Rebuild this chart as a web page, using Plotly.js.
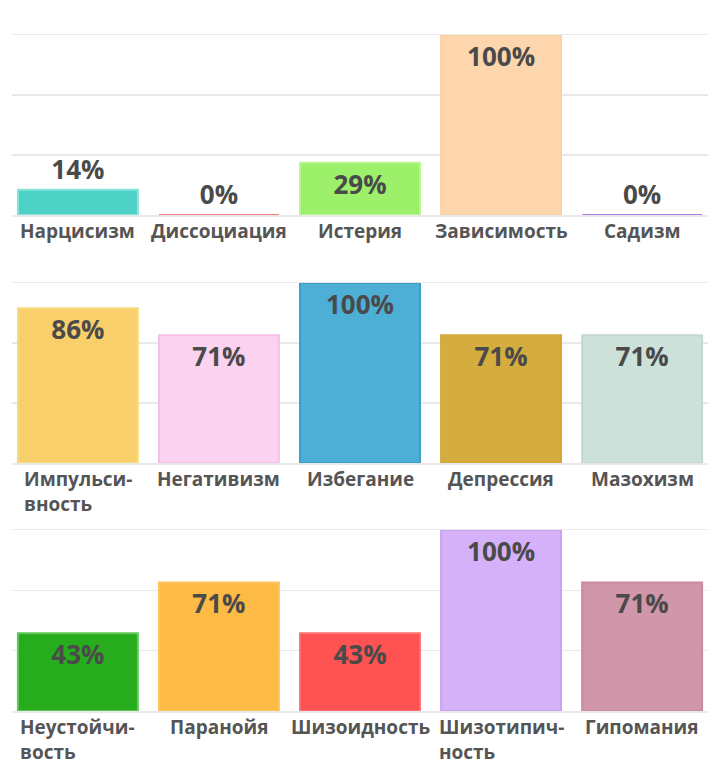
<!DOCTYPE html>
<html>
<head>
<meta charset="utf-8">
<script src="https://cdn.plot.ly/plotly-3.0.1.min.js"></script>
<style>html,body{margin:0;padding:0;background:#fff;}#chart{width:720px;height:770px;}</style>
</head>
<body>
<div id="chart"></div>
<script>
// ---- data ----
var row1Labels = ['Нарцисизм', 'Диссоциация', 'Истерия', 'Зависимость', 'Садизм'];
var row1Values = [14, 0, 29, 100, 0];
var row2Labels = ['Импульси-<br>вность', 'Негативизм', 'Избегание', 'Депрессия', 'Мазохизм'];
var row2Values = [86, 71, 100, 71, 71];
var row3Labels = ['Неустойчи-<br>вость', 'Паранойя', 'Шизоидность', 'Шизотипич-<br>ность', 'Гипомания'];
var row3Values = [43, 71, 43, 100, 71];

// ---- styles ----
var row1Colors = ['#4fd2c6', '#f07a7a', '#9cf06a', '#fdd6ad', '#b888ee'];
var row1Lines  = ['#86e3da', '#f07c7c', '#b6f592', '#fbd2a8', '#b07ce8'];
var row2Colors = ['#f8cf6a', '#fbd3f0', '#4eafd6', '#d5ad3f', '#cbe1da'];
var row2Lines  = ['#f6dc80', '#f5c0e6', '#3a9ec6', '#d2a83a', '#c2d8d1'];
var row3Colors = ['#27ac1e', '#fdba45', '#ff5252', '#d4b1f8', '#d096a9'];
var row3Lines  = ['#5cc855', '#fdc45e', '#ff6f6f', '#c8a2f0', '#c88a9e'];

var FONT = 'Open Sans, Noto Sans, DejaVu Sans, sans-serif';
var rows = [
  {labels: row1Labels, values: row1Values, colors: row1Colors, lines: row1Lines, dom: [215, 35]},
  {labels: row2Labels, values: row2Values, colors: row2Colors, lines: row2Lines, dom: [463, 283]},
  {labels: row3Labels, values: row3Values, colors: row3Colors, lines: row3Lines, dom: [711, 530]}
];
var H = 770, W = 720;
var traces = [], annotations = [];
var layout = {
  width: W, height: H,
  margin: {l: 0, r: 0, t: 0, b: 0},
  paper_bgcolor: '#ffffff', plot_bgcolor: '#ffffff',
  showlegend: false,
  font: {family: FONT},
  bargap: 0.15
};
rows.forEach(function (r, i) {
  var n = i + 1;
  var xa = 'x' + (n === 1 ? '' : n), ya = 'y' + (n === 1 ? '' : n);
  var keys = r.labels.map(function (l, j) { return 'c' + j; });
  traces.push({
    type: 'bar',
    x: keys,
    y: r.values,
    xaxis: xa, yaxis: ya,
    width: 0.85,
    marker: {color: r.colors, line: {color: r.lines, width: 2}},
    text: r.values.map(function (v) { return v + '%'; }),
    textposition: r.values.map(function (v) { return v < 20 ? 'outside' : 'inside'; }),
    insidetextanchor: 'end',
    constraintext: 'none',
    cliponaxis: false,
    textfont: {family: FONT, size: 26, color: '#4a4a4a', weight: 'bold'},
    insidetextfont: {family: FONT, size: 26, color: '#4a4a4a', weight: 'bold'},
    outsidetextfont: {family: FONT, size: 26, color: '#4a4a4a', weight: 'bold'},
    hoverinfo: 'none'
  });
  layout['xaxis' + (n === 1 ? '' : n)] = {
    domain: [12 / W, 708 / W],
    anchor: ya,
    range: [-0.467, 4.467],
    type: 'category',
    showticklabels: false, showgrid: false, zeroline: false,
    showline: true, mirror: true, linecolor: '#e8e8e8', linewidth: 1.5,
    layer: 'below traces',
    ticks: ''
  };
  layout['yaxis' + (n === 1 ? '' : n)] = {
    domain: [1 - r.dom[0] / H, 1 - r.dom[1] / H],
    anchor: xa,
    range: [0, 100],
    tickvals: [100 / 3, 200 / 3],
    showticklabels: false,
    gridcolor: '#e8e8e8', gridwidth: 1.5,
    zeroline: false,
    showline: false, ticks: ''
  };
  r.labels.forEach(function (l, j) {
    annotations.push({
      xref: xa, yref: ya, x: keys[j], y: 0,
      yanchor: 'top', xanchor: 'center', yshift: -1,
      showarrow: false, align: 'left',
      text: l,
      font: {family: FONT, size: 19, color: '#555555', weight: 'bold'}
    });
  });
});
layout.annotations = annotations;
Plotly.newPlot('chart', traces, layout, {displayModeBar: false, staticPlot: true});
</script>
</body>
</html>
